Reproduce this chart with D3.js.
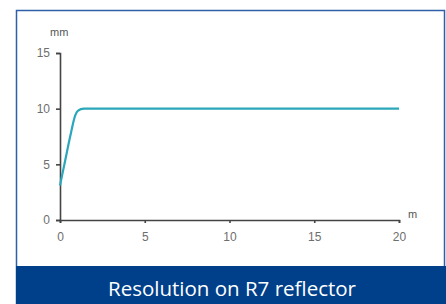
<!DOCTYPE html>
<html>
<head>
<meta charset="utf-8">
<script src="https://cdn.jsdelivr.net/npm/d3@7"></script>
<style>
  body { margin: 0; background: #fff; }
  svg { display: block; }
</style>
</head>
<body>
<div id="chart"></div>
<script>
// distance in metres vs resolution in mm
const distance = [0, 0.3, 0.6, 0.9, 1.05, 1.4, 2, 5, 10, 15, 20];
const resolution = [3.1, 5.3, 7.5, 9.4, 9.8, 10, 10, 10, 10, 10, 10];
const xTicks = [0, 5, 10, 15, 20];
const yTicks = [0, 5, 10, 15];
const caption = "Resolution on R7 reflector";

const W = 446, H = 304;
const margin = {top: 53, left: 60, right: 47, bottom: 84};
const width = W - margin.left - margin.right;
const height = H - margin.top - margin.bottom;

const svg = d3.select("#chart").append("svg")
    .attr("width", W)
    .attr("height", H);

// frame and caption bar
svg.append("rect")
    .attr("x", 16.5).attr("y", 10.5)
    .attr("width", 428).attr("height", 300)
    .attr("fill", "#fff")
    .attr("stroke", "#2f5fa8")
    .attr("stroke-width", 1.5);

svg.append("rect")
    .attr("x", 16).attr("y", 266)
    .attr("width", W - 16).attr("height", H - 266)
    .attr("fill", "#003f8a");

svg.append("text")
    .attr("x", 232).attr("y", 296)
    .attr("text-anchor", "middle")
    .attr("fill", "#fff")
    .style("font-family", "'Open Sans', sans-serif")
    .style("font-size", "20.5px")
    .text(caption);

const g = svg.append("g")
    .attr("transform", "translate(" + margin.left + "," + margin.top + ")");

const xScale = d3.scaleLinear().domain([0, 20]).range([0, width]);
const yScale = d3.scaleLinear().domain([0, 15]).range([height, 0]);

const xAxis = d3.axisBottom(xScale).tickValues(xTicks).tickSize(3).tickPadding(9);
const yAxis = d3.axisLeft(yScale).tickValues(yTicks).tickSize(4).tickPadding(6);

const xAxisGroup = g.append("g")
    .attr("class", "axis x-axis")
    .attr("transform", `translate(0, ${height})`)
    .call(xAxis);

const yAxisGroup = g.append("g")
    .attr("class", "axis y-axis")
    .call(yAxis);

[xAxisGroup, yAxisGroup].forEach(ax => {
    ax.select(".domain").attr("stroke", "#444").attr("stroke-width", 1.6);
    ax.selectAll(".tick line").attr("stroke", "#444").attr("stroke-width", 1.6);
    ax.selectAll(".tick text")
        .attr("fill", "#6e6e6e")
        .style("font-family", "'Liberation Sans', Arial, sans-serif")
        .style("font-size", "12px");
});

// units
g.append("text")
    .attr("x", -10).attr("y", -17)
    .attr("fill", "#555")
    .style("font-family", "'Liberation Sans', Arial, sans-serif")
    .style("font-size", "11px")
    .text("mm");

g.append("text")
    .attr("x", width + 9).attr("y", -2 + height)
    .attr("fill", "#555")
    .style("font-family", "'Liberation Sans', Arial, sans-serif")
    .style("font-size", "11px")
    .text("m");

const points = distance.map((d, i) => ({x: d, y: resolution[i]}));

const line = d3.line()
    .x(d => xScale(d.x))
    .y(d => yScale(d.y))
    .curve(d3.curveMonotoneX);

g.append("path")
    .datum(points)
    .attr("fill", "none")
    .attr("stroke", "#2aa7ba")
    .attr("stroke-width", 2.2)
    .attr("d", line);
</script>
</body>
</html>
